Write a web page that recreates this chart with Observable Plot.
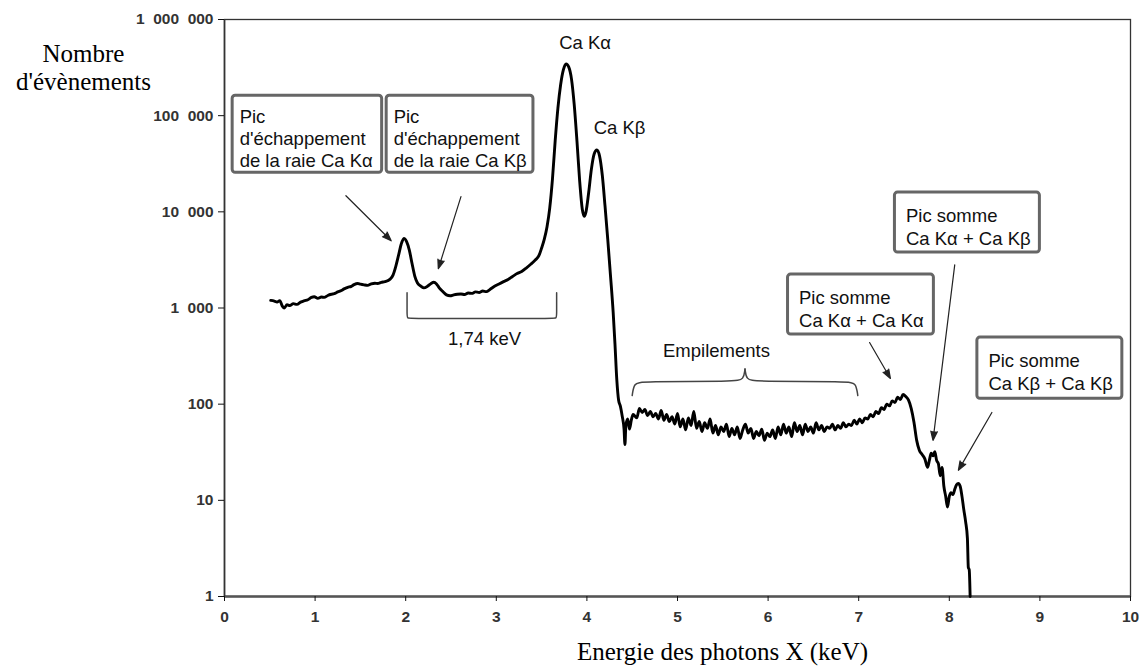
<!DOCTYPE html>
<html>
<head>
<meta charset="utf-8">
<script src="https://cdn.jsdelivr.net/npm/d3@7"></script>
<script src="https://cdn.jsdelivr.net/npm/@observablehq/plot@0.6"></script>
<style>
  html, body { margin: 0; padding: 0; background: #fff; }
  #chart svg { display: block; }
  #chart g[aria-label="y-axis tick label"], #chart g[aria-label="x-axis tick label"] { font-weight: bold; }
</style>
</head>
<body>
<div id="chart"></div>
<script>
// ---- Data: X-ray photon energy (keV) and number of events ----
const energy = [
  0.51,0.55,0.58,0.61,0.64,0.66,0.69,0.72,0.76,0.80,0.84,0.88,0.92,0.96,0.99,
  1.03,1.07,1.10,1.14,1.18,1.21,1.25,1.29,1.32,1.36,1.40,1.43,1.47,1.50,1.54,
  1.58,1.62,1.66,1.69,1.73,1.77,1.80,1.83,1.86,1.89,1.92,1.95,1.98,2.01,2.04,
  2.07,2.10,2.13,2.17,2.20,2.24,2.28,2.31,2.34,2.37,2.41,2.45,2.49,2.53,2.57,
  2.61,2.65,2.69,2.73,2.77,2.81,2.85,2.89,2.93,2.98,3.03,3.08,3.13,3.18,3.23,
  3.28,3.33,3.38,3.43,3.47,3.50,3.53,3.56,3.59,3.62,3.65,3.68,3.71,3.74,3.77,
  3.80,3.83,3.86,3.89,3.92,3.95,3.97,3.99,4.02,4.05,4.08,4.11,4.14,4.17,4.20,
  4.23,4.26,4.29,4.31,4.33,4.35,4.37,4.39,4.41,4.42,4.43,4.45,4.47,4.49,
  4.51,4.55,4.58,4.61,4.64,4.67,4.70,4.73,4.76,4.79,4.82,4.85,4.88,4.91,4.94,
  4.97,5.00,5.03,5.06,5.09,5.12,5.15,5.18,5.21,5.24,5.27,5.30,5.33,5.36,5.39,
  5.42,5.45,5.48,5.51,5.54,5.57,5.60,5.63,5.66,5.69,5.72,5.75,5.78,5.81,5.84,
  5.87,5.90,5.93,5.96,5.99,6.02,6.05,6.08,6.11,6.14,6.17,6.20,6.23,6.26,6.29,
  6.32,6.35,6.38,6.41,6.44,6.47,6.50,6.53,6.56,6.59,6.62,6.65,6.68,6.71,6.74,
  6.77,6.80,6.83,6.86,6.89,6.92,6.95,6.98,7.01,7.04,7.07,7.10,7.13,7.16,7.19,
  7.22,7.25,7.28,7.31,7.34,7.37,7.40,7.43,7.46,7.49,7.52,7.55,7.58,7.61,7.64,
  7.67,7.70,7.73,7.76,7.78,7.80,7.82,7.84,7.86,7.88,7.90,7.92,7.94,7.96,7.98,
  8.00,8.02,8.04,8.06,8.08,8.10,8.12,8.14,8.16,8.18,8.20,8.21,8.22,8.23
];
const counts = [
  1200,1180,1150,1190,1040,1000,1080,1060,1110,1090,1150,1190,1220,1290,1310,
  1260,1300,1290,1350,1390,1410,1470,1520,1580,1640,1680,1750,1800,1770,1740,
  1720,1780,1810,1800,1850,1880,1920,2000,2200,2700,3500,4600,5300,4900,4000,
  2900,2150,1820,1680,1620,1680,1800,1850,1780,1620,1480,1370,1340,1370,1390,
  1400,1380,1430,1420,1470,1450,1500,1480,1560,1680,1780,1880,1980,2130,2280,
  2400,2600,2850,3150,3500,4200,5200,7000,11000,22000,55000,120000,210000,300000,345000,
  320000,240000,130000,55000,21000,10500,9000,10000,16000,28000,40000,44000,38000,24000,11500,
  5200,2200,900,420,180,110,95,75,55,38,60,70,55,68,
  78,72,90,82,88,76,84,74,80,70,86,68,78,66,74,
  62,80,58,70,54,72,60,84,56,66,52,64,56,70,50,
  60,48,58,52,62,46,56,48,58,44,54,62,50,56,44,
  52,47,55,42,50,46,54,44,58,48,62,50,58,46,64,
  52,60,48,62,52,58,50,64,54,60,52,58,56,62,54,
  60,56,64,58,62,60,68,62,70,64,72,70,78,74,84,
  80,92,88,100,96,108,104,118,112,126,120,110,90,65,42,
  33,30,27,22,26,31,29,32,26,24,18,22,14,11,8.5,
  11,12,11.5,13,14.5,15,14,11,8,6,4,2,1.9,1
];
const xTicks = [0,1,2,3,4,5,6,7,8,9,10];
const yTicks = [1,10,100,1000,10000,100000,1000000];

// Peak labels (keV, counts)
const peakLabels = ["Ca Kα", "Ca Kβ", "1,74 keV", "Empilements"];
const peakLabelX = [3.98, 4.36, 2.87, 5.43];
const peakLabelY = [570000, 75000, 480, 360];

// Boxed annotations (data coordinates)
const escapeBoxes = [
  {label: "Pic\nd'échappement\nde la raie Ca Kα", x1: 0.09, x2: 1.74, y1: 25500, y2: 161000},
  {label: "Pic\nd'échappement\nde la raie Ca Kβ", x1: 1.79, x2: 3.41, y1: 25500, y2: 161000}
];
const sumBoxes = [
  {label: "Pic somme\nCa Kα + Ca Kβ", x1: 7.40, x2: 9.00, y1: 3770, y2: 15850},
  {label: "Pic somme\nCa Kα + Ca Kα", x1: 6.22, x2: 7.83, y1: 529, y2: 2224},
  {label: "Pic somme\nCa Kβ + Ca Kβ", x1: 8.31, x2: 9.91, y1: 114, y2: 492}
];
const arrows = [
  {x1: 1.34, y1: 14700, x2: 1.84, y2: 5000},
  {x1: 2.61, y1: 14400, x2: 2.36, y2: 2560},
  {x1: 7.12, y1: 437, x2: 7.35, y2: 185},
  {x1: 8.06, y1: 2810, x2: 7.82, y2: 42},
  {x1: 8.47, y1: 82, x2: 8.10, y2: 20.5}
];
// Brackets
const bracket174 = [
  {x: 2.015, y: 1445, g: "a"}, {x: 2.015, y: 850, g: "a"}, {x: 2.015, y: 776, g: "a"},
  {x: 2.07, y: 776, g: "a"}, {x: 3.61, y: 776, g: "a"}, {x: 3.666, y: 776, g: "a"},
  {x: 3.666, y: 850, g: "a"}, {x: 3.666, y: 1445, g: "a"}
];
const braceEmp = [
  {x: 4.50, y: 123, g: "l"}, {x: 4.52, y: 165, g: "l"}, {x: 4.60, y: 172, g: "l"},
  {x: 5.64, y: 172, g: "l"}, {x: 5.73, y: 180, g: "l"}, {x: 5.745, y: 232, g: "l"},
  {x: 5.745, y: 232, g: "r"}, {x: 5.76, y: 180, g: "r"}, {x: 5.85, y: 172, g: "r"},
  {x: 6.90, y: 172, g: "r"}, {x: 6.97, y: 165, g: "r"}, {x: 6.99, y: 123, g: "r"}
];

const spectrum = energy.map((e, i) => ({e, n: counts[i]}));
const peaks = peakLabels.map((t, i) => ({t, x: peakLabelX[i], y: peakLabelY[i]}));
const fmt = d => d3.format(",")(d).replace(/,/g, "\u00a0\u00a0");

const chart = Plot.plot({
  width: 1140,
  height: 666,
  marginLeft: 224,
  marginRight: 10,
  marginTop: 19,
  marginBottom: 70,
  style: {fontFamily: "'Liberation Sans', Arial, sans-serif", fontSize: "19px", background: "#fff", color: "#111"},
  x: {domain: [0, 10]},
  y: {type: "log", domain: [1, 1e6]},
  marks: [
    Plot.frame({stroke: "#333", strokeWidth: 1.3}),
    Plot.ruleY([1], {stroke: "#555", strokeWidth: 2.5}),
    Plot.ruleX([0], {stroke: "#333", strokeWidth: 1.6}),
    Plot.axisY({ticks: yTicks, tickFormat: fmt, tickSize: 6, tickPadding: 5, fontSize: 15.5, fontWeight: "bold", fill: "#333", label: null}),
    Plot.axisX({ticks: xTicks, tickSize: 5, tickPadding: 9, fontSize: 15.5, fontWeight: "bold", fill: "#333", label: null}),
    Plot.line(spectrum, {x: "e", y: "n", stroke: "#000", strokeWidth: 2.9, curve: "monotone-x"}),
    Plot.line(bracket174, {x: "x", y: "y", z: "g", stroke: "#444", strokeWidth: 1.5, curve: "basis"}),
    Plot.line(braceEmp, {x: "x", y: "y", z: "g", stroke: "#444", strokeWidth: 1.5, curve: "basis"}),
    Plot.arrow(arrows, {x1: "x1", y1: "y1", x2: "x2", y2: "y2", stroke: "#222", fill: "#222", strokeWidth: 1.2, headLength: 12, headAngle: 40}),
    Plot.rect(escapeBoxes, {x1: "x1", x2: "x2", y1: "y1", y2: "y2", fill: "#fff", stroke: "#666", strokeWidth: 3, rx: 3}),
    Plot.rect(sumBoxes, {x1: "x1", x2: "x2", y1: "y1", y2: "y2", fill: "#fff", stroke: "#666", strokeWidth: 3, rx: 3}),
    Plot.text(escapeBoxes, {x: "x1", y: "y2", text: "label", textAnchor: "start", lineAnchor: "top", dx: 7, dy: 12, fontSize: 18.5, lineHeight: 1.18, fill: "#111"}),
    Plot.text(sumBoxes, {x: "x1", y: "y2", text: "label", textAnchor: "start", lineAnchor: "top", dx: 11, dy: 13, fontSize: 18.5, lineHeight: 1.24, fill: "#111"}),
    Plot.text(peaks, {x: "x", y: "y", text: "t", fontSize: 18.5, fill: "#111"}),
    Plot.text(["Nombre\nd'évènements"], {frameAnchor: "top-left", dx: -141, dy: 23, lineAnchor: "top", textAnchor: "middle", fontFamily: "'Liberation Serif', 'Times New Roman', serif", fontSize: 25, lineHeight: 1.12, fill: "#000"}),
    Plot.text(["Energie des photons X (keV)"], {frameAnchor: "bottom", dx: 45, dy: 55, lineAnchor: "middle", textAnchor: "middle", fontFamily: "'Liberation Serif', 'Times New Roman', serif", fontSize: 25, fill: "#000"})
  ]
});
document.getElementById("chart").appendChild(chart);
</script>
</body>
</html>
